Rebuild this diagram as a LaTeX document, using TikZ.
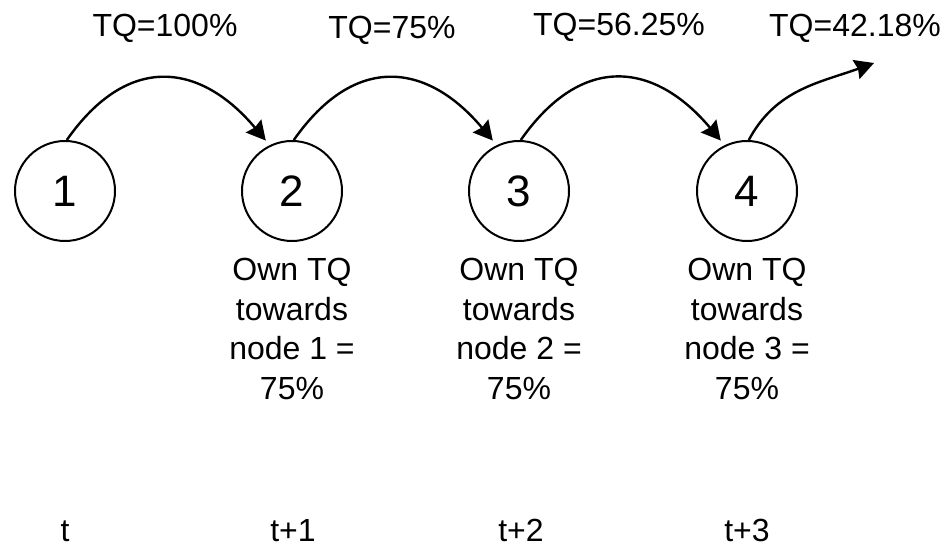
\documentclass[tikz,border=0pt]{standalone}
\usepackage{fontspec}
\setmainfont{Liberation Sans}
\usetikzlibrary{arrows.meta}

\tikzset{
  hop/.style={draw, circle, line width=1pt, minimum size=50pt, inner sep=0pt,
    font=\fontsize{22}{24}\selectfont},
  flow/.style={line width=1.2pt, -{Stealth[length=9.5pt,width=10pt,inset=1pt]}},
  lbl/.style={font=\fontsize{16}{19.75}\selectfont, inner sep=0pt},
}

\begin{document}
\begin{tikzpicture}[x=0.5pt, y=0.5pt]
    \useasboundingbox (0,0) rectangle (952,-549);

    % Nodes on the path
    \node[hop] (n1) at (65,-191) {1};
    \node[hop] (n2) at (292,-191) {2};
    \node[hop] (n3) at (519,-191) {3};
    \node[hop] (n4) at (747,-191) {4};
    \coordinate (next) at (874,-63);

    % Hops from node to node
    \draw[flow, shorten >=3pt] (n1.88) to[out=55, in=130, looseness=1.35] (n2.116);
    \draw[flow, shorten >=3pt] (n2.88) to[out=55, in=130, looseness=1.35] (n3.116);
    \draw[flow, shorten >=3pt] (n3.88) to[out=55, in=130, looseness=1.35] (n4.116);
    \draw[flow] (n4.88) to[out=62, in=200] (next);

    % Trust values above the hops
    \node[lbl, anchor=base] (tq1) at (165,-37) {TQ=100\%};
    \node[lbl, anchor=base] (tq2) at (392,-39) {TQ=75\%};
    \node[lbl, anchor=base] (tq3) at (619,-36) {TQ=56.25\%};
    \node[lbl, anchor=base] (tq4) at (855,-37) {TQ=42.18\%};

    % Own trust of each node
    \node[lbl, align=center, anchor=north] (own2) at (292,-258) {Own TQ\\towards\\node 1 =\\75\%};
    \node[lbl, align=center, anchor=north] (own3) at (519,-258) {Own TQ\\towards\\node 2 =\\75\%};
    \node[lbl, align=center, anchor=north] (own4) at (747,-258) {Own TQ\\towards\\node 3 =\\75\%};

    % Time steps
    \node[lbl, anchor=base] (t1) at (65,-541) {t};
    \node[lbl, anchor=base] (t2) at (293,-541) {t+1};
    \node[lbl, anchor=base] (t3) at (521,-541) {t+2};
    \node[lbl, anchor=base] (t4) at (747,-541) {t+3};
\end{tikzpicture}
\end{document}
